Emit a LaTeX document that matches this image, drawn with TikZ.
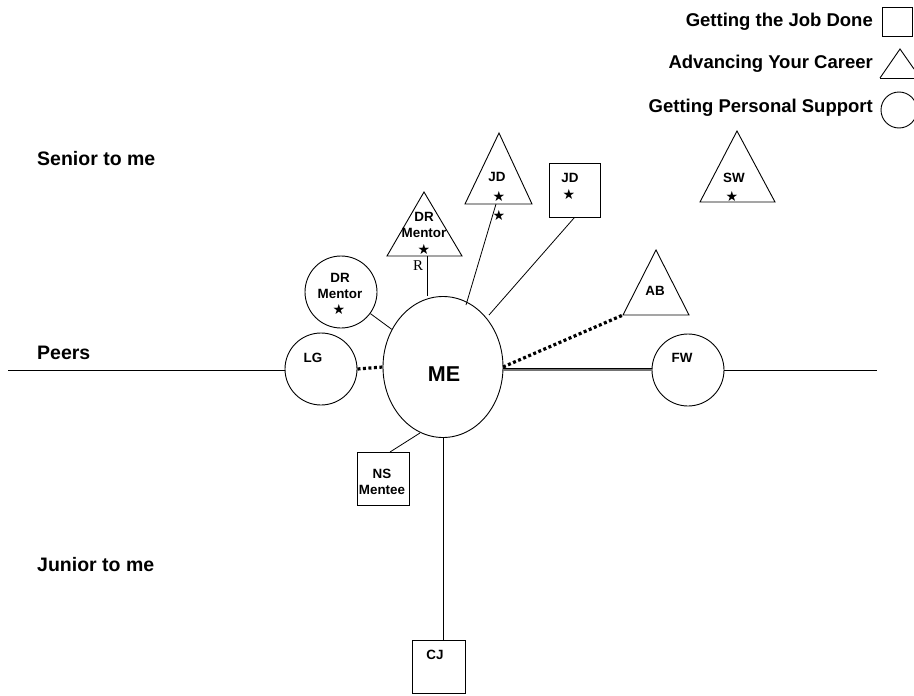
\documentclass[tikz,border=0pt]{standalone}
\usepackage{fontspec}
\usetikzlibrary{shapes.geometric}
\setmainfont{Liberation Sans}
\newfontfamily\starfont{DejaVu Sans}
\newfontfamily\serfont{Liberation Serif}
\begin{document}
\begin{tikzpicture}[x=1pt,y=-1pt,
  shp/.style={draw=black,line width=0.9pt},
  conn/.style={draw=black,line width=0.8pt},
  thickdot/.style={draw=black,line width=3.2pt,dash pattern=on 3pt off 2.5pt},
  lbl/.style={font=\fontsize{13.4}{15.5}\selectfont\bfseries,align=center,inner sep=0pt},
  big/.style={font=\fontsize{19.5}{22}\selectfont\bfseries,inner sep=0pt},
  leg/.style={font=\fontsize{18.5}{20}\selectfont\bfseries,inner sep=0pt,anchor=east},
  st/.style={font=\starfont\fontsize{14}{14}\selectfont,inner sep=0pt}]
\useasboundingbox (0,0) rectangle (914,696);
% legend
\node[leg] (lg1) at (873,22) {Getting the Job Done};
\draw[shp] (882,7) rectangle (912,36);
\node[leg] (lg2) at (873,64) {Advancing Your Career};
\draw[shp] (880,78) -- (900,49) -- (914,69);
\draw[shp] (880,78) -- (914,78);
\node[leg] (lg3) at (873,108) {Getting Personal Support};
\draw[shp] (899,110) circle[radius=18];
% row labels
\node[big,anchor=west] (sen) at (37,159) {Senior to me};
\node[big,anchor=west] (peer) at (37,353) {Peers};
\node[big,anchor=west] (jun) at (37,565) {Junior to me};
% ME
\node[shp,ellipse,minimum width=120,minimum height=141,inner sep=0pt] (me) at (443,367) {};
\node[font=\fontsize{21.5}{22}\selectfont\bfseries,inner sep=0pt] (metext) at (444,374) {ME};
% LG
\node[shp,circle,minimum size=72,inner sep=0pt] (lgc) at (321,369) {};
\node[lbl] (lgt) at (313,358) {LG};
% FW
\node[shp,circle,minimum size=72,inner sep=0pt] (fw) at (688,370) {};
\node[lbl] (fwt) at (682,358) {FW};
% peer axis
\coordinate (axl) at (8,370);
\coordinate (axr) at (877,370);
\draw[conn] (axl) -- (axl -| lgc.west);
\draw[conn] (fw.east) -- (axr);
\draw[thickdot] (lgc.east) -- (me.west);
\coordinate (mefa) at (503,369.8);
\coordinate (mefb) at (503,368.6);
\draw[draw=black!55,line width=1.6pt] (mefa) -- (mefa -| fw.west);
\draw[draw=black,line width=1pt] (mefb) -- (mefb -| fw.west);
% DR Mentor circle
\node[shp,circle,minimum size=72,inner sep=0pt] (drc) at (341,292) {};
\node[lbl] (drct) at (340,286) {DR\\Mentor};
\node[st] (drcs) at (339,309) {★};
\draw[conn] (drc) -- (me);
% DR Mentor triangle
\coordinate (drta) at (424,192);
\coordinate (drtl) at (387,256);
\coordinate (drtr) at (462,256);
\draw[shp] (drtl) -- (drta) -- (drtr) -- cycle;
\node[lbl] (drtt) at (424,225) {DR\\Mentor};
\node[st] (drts) at (424,249) {★};
\node[font=\serfont\fontsize{15}{15}\selectfont,inner sep=0pt] (rr) at (418,266) {R};
\coordinate (drtb) at (427,256);
\draw[conn] (drtb) -- (me.north -| drtb);
% JD triangle
\coordinate (jda) at (499,133);
\coordinate (jdl) at (465,204);
\coordinate (jdr) at (532,204);
\draw[shp] (jdl) -- (jda) -- (jdr) -- cycle;
\node[lbl] (jdtt) at (497,177) {JD};
\node[st] (jds1) at (499,196) {★};
\node[st] (jds2) at (499,215) {★};
\coordinate (jdb) at (496,204);
\coordinate (jdm) at (466,305);
\draw[conn] (jdb) -- (jdm);
% JD square
\node[shp,minimum width=51,minimum height=54,inner sep=0pt] (jdsq) at (574.5,190) {};
\node[lbl] (jdsqt) at (570,178) {JD};
\node[st] (jdsqs) at (569,194) {★};
\coordinate (jdsqm) at (489,315);
\draw[conn] (jdsq.south) -- (jdsqm);
% SW triangle
\coordinate (swa) at (737,131);
\coordinate (swl) at (700,202);
\coordinate (swr) at (775,202);
\draw[shp] (swl) -- (swa) -- (swr) -- cycle;
\node[lbl] (swt) at (734,178) {SW};
\node[st] (sws) at (732,196) {★};
% AB triangle
\coordinate (aba) at (656,250);
\coordinate (abl) at (623,315);
\coordinate (abr) at (689,315);
\draw[shp] (abl) -- (aba) -- (abr) -- cycle;
\node[lbl] (abt) at (655,291) {AB};
\coordinate (mer) at (503,367);
\draw[thickdot] (mer) -- (abl);
% NS Mentee
\node[shp,minimum width=52,minimum height=53,inner sep=0pt] (ns) at (383,478.5) {};
\node[lbl] (nst) at (382,482) {NS\\Mentee};
\coordinate (nsm) at (420,433);
\coordinate (nstop) at (390,452);
\draw[conn] (nstop) -- (nsm);
% CJ
\node[shp,minimum width=53,minimum height=53,inner sep=0pt] (cj) at (438.5,666.5) {};
\node[lbl] (cjt) at (435,655) {CJ};
\draw[conn] (me.south) -- (me.south |- cj.north);
\end{tikzpicture}
\end{document}
